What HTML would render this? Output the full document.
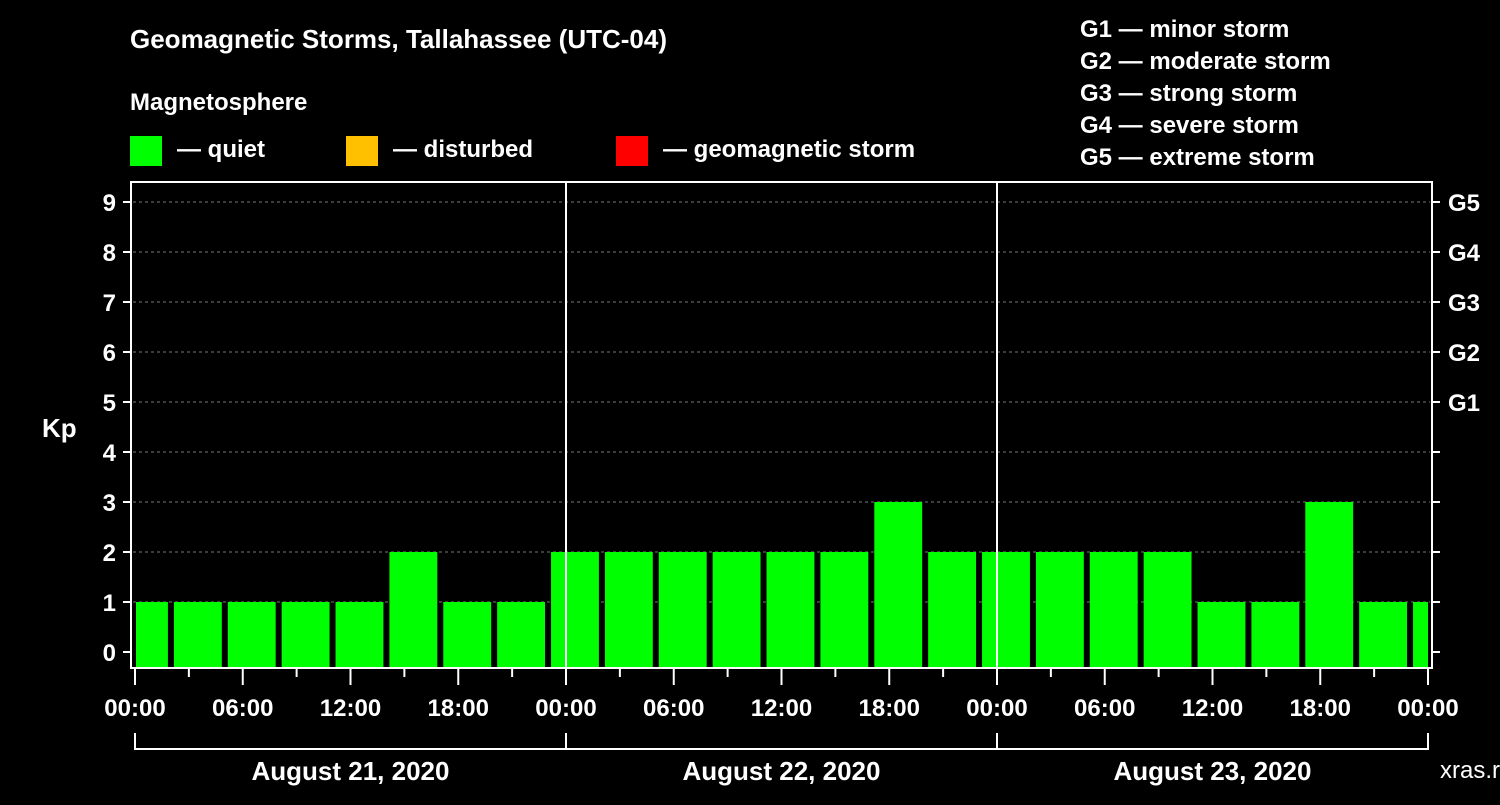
<!DOCTYPE html>
<html><head><meta charset="utf-8"><style>
body{margin:0;background:#000;width:1500px;height:800px;overflow:hidden}
svg text{font-family:"Liberation Sans",sans-serif;font-weight:bold;fill:#fff}
</style></head><body>
<svg id="c" width="1500" height="800" xmlns="http://www.w3.org/2000/svg">
<text x="130" y="48" font-size="26">Geomagnetic Storms, Tallahassee (UTC-04)</text>
<text x="130" y="110" font-size="24">Magnetosphere</text>
<g><rect x="130" y="136" width="32" height="30" fill="#00ff00"/><text x="177" y="157" font-size="24">— quiet</text></g>
<g><rect x="346" y="136" width="32" height="30" fill="#ffc000"/><text x="393" y="157" font-size="24">— disturbed</text></g>
<g><rect x="616" y="136" width="32" height="30" fill="#ff0000"/><text x="663" y="157" font-size="24">— geomagnetic storm</text></g>
<g font-size="24">
<text x="1080" y="37">G1 — minor storm</text><text x="1080" y="69">G2 — moderate storm</text><text x="1080" y="101">G3 — strong storm</text><text x="1080" y="133">G4 — severe storm</text><text x="1080" y="165">G5 — extreme storm</text></g>
<text x="42" y="437" font-size="26">Kp</text>
<text x="1440" y="778" font-size="24" font-weight="normal" style="font-weight:normal" fill="#888">xras.ru</text>
<g id="plot"></g>
</svg>
<script>
const kpValues=[1,1,1,1,1,2,1,1,2,2,2,2,2,2,3,2,2,2,2,2,1,1,3,1,1];
const yTicks=[0,1,2,3,4,5,6,7,8,9];
const gLabels=["G1","G2","G3","G4","G5"];
const timeLabels=["00:00","06:00","12:00","18:00"];
const dayLabels=["August 21, 2020","August 22, 2020","August 23, 2020"];
const X0=135,X1=1428,HOURS=72;
const xs=h=>X0+(X1-X0)*h/HOURS;
const ys=v=>652-50*v;
const NS="http://www.w3.org/2000/svg";
const P=document.getElementById('plot');
function mk(t,a,txt){const e=document.createElementNS(NS,t);for(const k in a)e.setAttribute(k,a[k]);if(txt!==undefined)e.textContent=txt;P.appendChild(e);return e;}
const clip=mk('clipPath',{id:'cp'});const cr=document.createElementNS(NS,'rect');cr.setAttribute('x',136);cr.setAttribute('y',182);cr.setAttribute('width',1292);cr.setAttribute('height',486);clip.appendChild(cr);
yTicks.forEach(v=>{
 if(v>0){const g=mk('line',{x1:133,x2:1430,y1:ys(v),y2:ys(v),stroke:'#777','stroke-dasharray':'3,3'});
 }
 const t=mk('line',{x1:123,x2:131,y1:ys(v),y2:ys(v),stroke:'#fff','stroke-width':2});
 
 const l=mk('text',{x:116,y:ys(v)+9,'font-size':24,'text-anchor':'end'},String(v));
 
 const r=mk('line',{x1:1432,x2:1440,y1:ys(v),y2:ys(v),stroke:'#fff','stroke-width':2});
 
});
gLabels.forEach((g,i)=>{const l=mk('text',{x:1448,y:ys(i+5)+9,'font-size':24},g);
 });
const bars=mk('g',{'clip-path':'url(#cp)'});
kpValues.forEach((v,i)=>{const c=xs(i*3+0.5);const w=xs(3)-X0-6;
 const b=document.createElementNS(NS,'rect');
 b.setAttribute('x',c-w/2);b.setAttribute('width',w);b.setAttribute('y',ys(v));b.setAttribute('height',667-ys(v));
 b.setAttribute('fill',v>=5?'#ff0000':(v>=4?'#ffc000':'#00ff00'));
 
 
 bars.appendChild(b);});
[1,2].forEach(d=>{const s=mk('line',{x1:xs(d*24),x2:xs(d*24),y1:182,y2:668,stroke:'#fff','stroke-width':2});
 });
const f=mk('rect',{x:131,y:182,width:1301,height:486,fill:'none',stroke:'#fff','stroke-width':2});

for(let h=0;h<=72;h+=3){const maj=h%6===0;
 const t=mk('line',{x1:xs(h),x2:xs(h),y1:669,y2:maj?685:677,stroke:'#fff','stroke-width':2});
 
 if(maj){const l=mk('text',{x:xs(h),y:716,'font-size':24,'text-anchor':'middle'},timeLabels[(h/6)%4]);
 }}
const br=mk('line',{x1:xs(0),x2:xs(72),y1:749,y2:749,stroke:'#fff','stroke-width':2});

for(let d=0;d<=3;d++){const t=mk('line',{x1:xs(d*24),x2:xs(d*24),y1:733,y2:750,stroke:'#fff','stroke-width':2});
 }
dayLabels.forEach((d,i)=>{const l=mk('text',{x:xs(i*24+12),y:780,'font-size':26,'text-anchor':'middle'},d);
 });
</script>
</body></html>
